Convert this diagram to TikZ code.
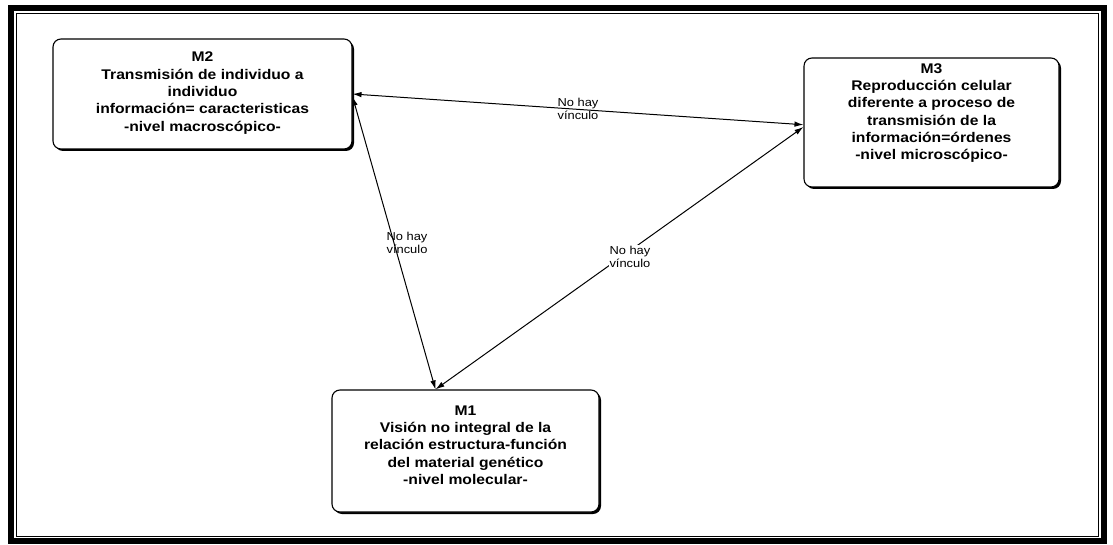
\documentclass[tikz,border=0pt]{standalone}
\usepackage{fontspec}
\setmainfont{Liberation Sans}[FakeStretch=1.12]
\usetikzlibrary{arrows.meta,shadows}
\begin{document}
\begin{tikzpicture}[x=1pt,y=-1pt,
  mbox/.style={draw=black, line width=1.1pt, rounded corners=8pt, fill=white,
    drop shadow={shadow xshift=2pt, shadow yshift=-2pt, fill=black, opacity=1},
    inner sep=0pt},
  mtext/.style={align=center, font=\fontsize{14}{17.3}\selectfont\bfseries},
  link/.style={line width=1pt, {Latex[length=9pt,width=5.5pt]}-{Latex[length=9pt,width=5.5pt]}},
  lbl/.style={align=center, font=\fontsize{11.5}{13}\selectfont, inner sep=1pt}]
  \useasboundingbox (0,0) rectangle (1113,545);
  \fill[white] (0,0) rectangle (1113,545);

  % double page frame
  \draw[line width=6pt] (11,8) rectangle (1104,541);
  \draw[line width=0.8pt] (16.5,13.5) rectangle (1098,536);

  % boxes
  \node[mbox, minimum width=299pt, minimum height=110pt] (M2) at (202.5,94) {};
  \node[mbox, minimum width=255pt, minimum height=129pt] (M3) at (931.5,122.5) {};
  \node[mbox, minimum width=267pt, minimum height=122pt] (M1) at (465.5,451) {};

  % box texts
  \node[mtext] (t2) at (202.5,93) {M2\\Transmisión de individuo a\\individuo\\información= caracteristicas\\-nivel macroscópico-};
  \node[mtext] (t3) at (931.5,113) {M3\\Reproducción celular\\diferente a proceso de\\transmisión de la\\información=órdenes\\-nivel microscópico-};
  \node[mtext] (t1) at (465.5,445) {M1\\Visión no integral de la\\relación estructura-función\\del material genético\\-nivel molecular-};

  % links
  \draw[link] (M2.east) -- node[lbl, pos=0.5] (l23) {No hay\\vínculo} (M3.181);
  \draw[link] (M2.-1) -- node[lbl, pos=0.5, xshift=13pt] (l21) {No hay\\vínculo} (M1.116.5);
  \draw[link] (M3.182) -- node[lbl, pos=0.496, xshift=9pt, fill=white] (l31) {No hay\\vínculo} (M1.116);
\end{tikzpicture}
\end{document}
